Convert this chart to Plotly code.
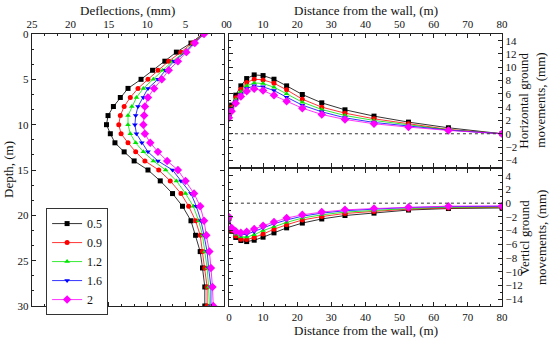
import plotly.graph_objects as go

# ---------------- data ----------------
series_names = ["0.5", "0.9", "1.2", "1.6", "2"]
colors = ["#000000", "#FF0000", "#00E600", "#0000FF", "#FF00FF"]
symbols = ["square", "circle", "triangle-up", "triangle-down", "diamond"]

depth = [0, 1, 2, 3, 4, 5, 6, 7, 8, 9, 10, 11, 12, 13, 14,
         15, 16.2, 17.6, 19.0, 20.6, 22.2, 24.0, 25.8, 27.9, 30]

defl_05 = [2.8, 4.3, 6.2, 7.7, 9.3, 10.8, 12.5, 13.5, 14.4, 15.1, 15.3, 14.8, 14.2, 13.0, 11.7,
           9.9, 8.3, 6.7, 5.4, 4.3, 3.7, 3.1, 2.8, 2.5, 2.5]
defl_09 = [2.7, 4.1, 5.6, 7.2, 8.6, 9.9, 11.2, 12.2, 13.0, 13.5, 13.7, 13.4, 12.5, 11.5, 10.3,
           8.5, 7.0, 5.6, 4.6, 3.7, 3.1, 2.8, 2.5, 2.2, 2.2]
defl_12 = [2.7, 4.0, 5.2, 6.7, 8.0, 9.2, 10.5, 11.4, 12.0, 12.5, 12.5, 12.2, 11.5, 10.5, 9.2,
           7.6, 6.2, 5.0, 4.0, 3.3, 2.8, 2.5, 2.2, 2.0, 1.9]
defl_16 = [2.6, 3.9, 5.0, 6.5, 7.6, 8.6, 9.9, 10.5, 11.2, 11.5, 11.6, 11.4, 10.7, 9.9, 8.6,
           6.7, 5.6, 4.3, 3.6, 3.0, 2.6, 2.2, 2.0, 1.7, 1.7]
defl_20 = [2.6, 3.8, 4.9, 6.0, 7.2, 8.1, 9.1, 9.9, 10.3, 10.4, 10.5, 10.3, 9.6, 8.6, 7.4,
           6.0, 5.0, 3.9, 3.1, 2.6, 2.3, 1.9, 1.7, 1.5, 1.4]

distance = [0, 0.8, 2.0, 3.5, 5.2, 7.4, 10.0, 13.2, 16.9, 21.5, 27.2, 34.0, 42.5, 52.6, 64.3, 80]

horiz_05 = [2.8, 4.3, 5.8, 7.2, 8.3, 8.85, 8.75, 8.2, 7.2, 5.9, 4.65, 3.6, 2.65, 1.75, 0.9, 0]
horiz_09 = [2.7, 4.0, 5.4, 6.7, 7.7, 8.2, 8.1, 7.6, 6.6, 5.2, 4.0, 3.1, 2.25, 1.5, 0.65, 0]
horiz_12 = [2.7, 3.8, 5.1, 6.3, 7.2, 7.65, 7.55, 7.0, 6.0, 4.75, 3.65, 2.75, 2.0, 1.3, 0.6, 0]
horiz_16 = [2.6, 3.6, 4.8, 5.9, 6.8, 7.2, 7.05, 6.5, 5.5, 4.3, 3.3, 2.4, 1.7, 1.15, 0.55, 0]
horiz_20 = [2.4, 3.4, 4.6, 5.6, 6.4, 6.75, 6.5, 5.8, 4.9, 3.85, 2.9, 2.15, 1.5, 1.0, 0.5, 0]

vert_05 = [-2.2, -4.1, -5.0, -5.45, -5.6, -5.4, -4.96, -4.33, -3.6, -2.9, -2.3, -1.8, -1.45, -1.0, -0.78, -0.7]
vert_09 = [-2.2, -3.95, -4.8, -5.25, -5.3, -5.0, -4.5, -3.8, -3.15, -2.45, -1.95, -1.5, -1.2, -0.87, -0.7, -0.6]
vert_12 = [-2.1, -3.8, -4.55, -4.9, -4.95, -4.6, -4.0, -3.4, -2.8, -2.17, -1.7, -1.3, -1.07, -0.78, -0.6, -0.55]
vert_16 = [-2.1, -3.7, -4.3, -4.6, -4.55, -4.15, -3.6, -3.0, -2.45, -1.9, -1.45, -1.1, -0.87, -0.63, -0.5, -0.45]
vert_20 = [-2.0, -3.6, -4.1, -4.3, -4.15, -3.75, -3.3, -2.75, -2.17, -1.7, -1.3, -0.97, -0.78, -0.6, -0.43, -0.4]

deflections = [defl_05, defl_09, defl_12, defl_16, defl_20]
horizontals = [horiz_05, horiz_09, horiz_12, horiz_16, horiz_20]
verticals = [vert_05, vert_09, vert_12, vert_16, vert_20]

left_ticks = [25, 20, 15, 10, 5, 0]
depth_ticks = [0, 5, 10, 15, 20, 25, 30]
dist_ticks = [0, 10, 20, 30, 40, 50, 60, 70, 80]
horiz_ticks = [-4, -2, 0, 2, 4, 6, 8, 10, 12, 14]
vert_ticks = [-14, -12, -10, -8, -6, -4, -2, 0, 2, 4]

# ---------------- figure ----------------
FONT = "Liberation Serif"
fig = go.Figure()

for i in range(5):
    common = dict(
        mode="lines+markers",
        line=dict(color=colors[i], width=0.8),
        marker=dict(symbol=symbols[i], color=colors[i], size=5 if i != 4 else 6.5,
                    line=dict(width=0)),
        name=series_names[i],
    )
    fig.add_trace(go.Scatter(x=deflections[i], y=depth, xaxis="x", yaxis="y",
                             showlegend=True, **common))
    fig.add_trace(go.Scatter(x=distance, y=horizontals[i], xaxis="x2", yaxis="y2",
                             showlegend=False, **common))
    fig.add_trace(go.Scatter(x=distance, y=verticals[i], xaxis="x3", yaxis="y3",
                             showlegend=False, **common))

minor_c = dict(ticks="inside", ticklen=2, tickcolor="#222222")
axis_common = dict(
    showline=True, linecolor="#222222", linewidth=1.3, mirror="ticks",
    ticks="inside", ticklen=4, tickwidth=1, tickcolor="#222222",
    showgrid=False, zeroline=False, automargin=False,
    tickfont=dict(family=FONT, size=11, color="#111111"),
)

fig.update_layout(
    template="none",
    width=550, height=341,
    margin=dict(l=32, r=48, t=34, b=35, pad=0),
    paper_bgcolor="white", plot_bgcolor="white",
    font=dict(family=FONT, size=11, color="#111111"),
    xaxis=dict(domain=[0, 0.4085], anchor="y", side="top", range=[25, 0],
               tickvals=left_ticks, minor=dict(dtick=5/3, tick0=0, **minor_c),
               **axis_common),
    yaxis=dict(domain=[0, 1], anchor="x", range=[30, 0], tickvals=depth_ticks,
               minor=dict(dtick=5/3, tick0=0, **minor_c), **axis_common),
    xaxis2=dict(domain=[0.419, 1], anchor="y2", side="top", range=[0, 80],
                tickvals=dist_ticks, minor=dict(dtick=10/3, tick0=0, **minor_c),
                **axis_common),
    yaxis2=dict(domain=[0.511, 1], anchor="x2", side="right", range=[-5, 15],
                tickvals=horiz_ticks, minor=dict(dtick=1, tick0=0, **minor_c),
                **axis_common),
    xaxis3=dict(domain=[0.419, 1], anchor="y3", side="bottom", range=[0, 80],
                tickvals=dist_ticks, minor=dict(dtick=10/3, tick0=0, **minor_c),
                **axis_common),
    yaxis3=dict(domain=[0, 0.504], anchor="x3", side="right", range=[-15, 5],
                tickvals=vert_ticks, minor=dict(dtick=1, tick0=0, **minor_c),
                **axis_common),
    legend=dict(x=0.03, y=0.36, xanchor="left", yanchor="top",
                bordercolor="#333333", borderwidth=1, bgcolor="white",
                font=dict(family=FONT, size=12, color="#111111"),
                tracegroupgap=0, itemwidth=30),
)

# dashed zero lines
for xr, yr in [("x2", "y2"), ("x3", "y3")]:
    fig.add_shape(type="line", xref=xr, yref=yr, x0=0, x1=80, y0=0, y1=0,
                  line=dict(color="#333333", width=1, dash="dot"))

# axis titles as annotations
title_font = dict(family=FONT, size=13, color="#111111")


def title(text, x, y, xshift=0, yshift=0, angle=0):
    fig.add_annotation(text=text, xref="paper", yref="paper", x=x, y=y,
                       xshift=xshift, yshift=yshift, showarrow=False,
                       font=title_font, textangle=angle,
                       xanchor="center", yanchor="middle")


title("Deflections, (mm)", 0.204, 1, yshift=24)
title("Distance from the wall, (m)", 0.71, 1, yshift=24)
title("Distance from the wall, (m)", 0.71, 0, yshift=-24)
title("Depth, (m)", 0, 0.5, xshift=-24, angle=-90)
title("Horizontal ground", 1, 0.755, xshift=22, angle=-90)
title("movements, (mm)", 1, 0.755, xshift=39, angle=-90)
title("Verticl ground", 1, 0.25, xshift=22, angle=-90)
title("movements, (mm)", 1, 0.25, xshift=39, angle=-90)

fig.write_html(
    "out.html",
    config={"displayModeBar": False, "staticPlot": True},
    post_script="document.body.style.margin='0';document.body.style.padding='0';"
                "document.body.style.overflow='hidden';",
)
